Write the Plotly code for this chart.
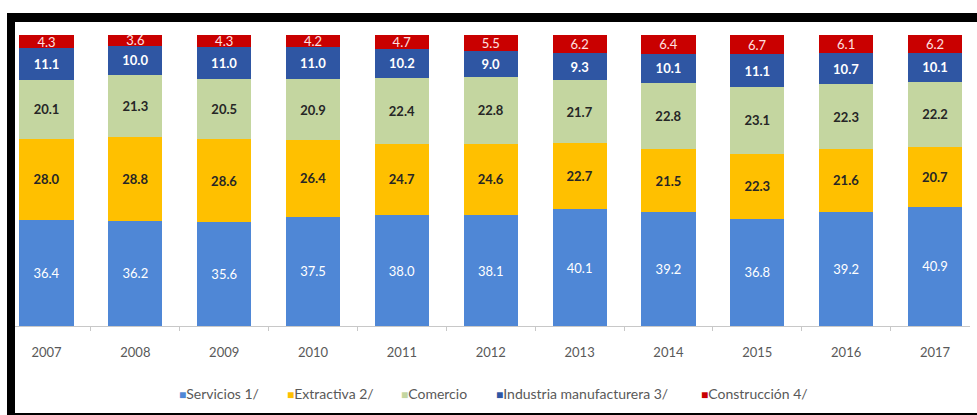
import plotly.graph_objects as go

# Participación por sector (%), 2007-2017
years = ["2007", "2008", "2009", "2010", "2011", "2012", "2013", "2014", "2015", "2016", "2017"]
servicios = [36.4, 36.2, 35.6, 37.5, 38.0, 38.1, 40.1, 39.2, 36.8, 39.2, 40.9]
extractiva = [28.0, 28.8, 28.6, 26.4, 24.7, 24.6, 22.7, 21.5, 22.3, 21.6, 20.7]
comercio = [20.1, 21.3, 20.5, 20.9, 22.4, 22.8, 21.7, 22.8, 23.1, 22.3, 22.2]
industria = [11.1, 10.0, 11.0, 11.0, 10.2, 9.0, 9.3, 10.1, 11.1, 10.7, 10.1]
construccion = [4.3, 3.6, 4.3, 4.2, 4.7, 5.5, 6.2, 6.4, 6.7, 6.1, 6.2]

series_names = ["Servicios 1/", "Extractiva 2/", "Comercio",
                "Industria manufacturera 3/", "Construcción 4/"]
series_values = [servicios, extractiva, comercio, industria, construccion]
series_colors = ["#4f87d6", "#ffc000", "#c4d6a0", "#2f56a3", "#c90000"]
label_colors = ["#ffffff", "#262626", "#262626", "#ffffff", "#ffe0e0"]
label_weights = ["normal", "bold", "bold", "bold", "normal"]

W, H = 977, 415
FONT = "Lato"

fig = go.Figure()
for name, vals, color, tcolor, weight in zip(series_names, series_values, series_colors,
                                             label_colors, label_weights):
    fig.add_trace(go.Bar(
        x=years,
        y=vals,
        name=name,
        showlegend=False,
        marker=dict(color=color, line=dict(width=0)),
        text=[f"{v:.1f}" for v in vals],
        textposition="inside",
        insidetextanchor="middle",
        constraintext="none",
        textangle=0,
        textfont=dict(family=FONT, size=13, color=tcolor, weight=weight),
    ))

# plot area in pixels
x_left, x_right = 15, 970
y_bottom, y_top = 326, 33.5
c0, pitch = 46.5, 88.85

# legend row below the axis: coloured square + series name
legend_x = [177, 285, 399, 494, 699]
legend_y = 1 - 393 / H
annotations = []
for name, color, lx in zip(series_names, series_colors, legend_x):
    annotations.append(dict(
        xref="paper", yref="paper",
        x=lx / W, y=legend_y,
        xanchor="left", yanchor="middle",
        showarrow=False,
        text=f"<span style='color:{color};font-size:12px'>■</span>{name}",
        font=dict(family=FONT, size=14, color="#595959"),
    ))

fig.update_layout(
    width=W,
    height=H,
    barmode="stack",
    bargap=0.39,
    margin=dict(l=0, r=0, t=0, b=0),
    paper_bgcolor="white",
    plot_bgcolor="white",
    font=dict(family=FONT, color="#595959"),
    showlegend=False,
    annotations=annotations,
    xaxis=dict(
        type="category",
        domain=[x_left / W, x_right / W],
        range=[(x_left - c0) / pitch, (x_right - c0) / pitch],
        showline=True,
        linecolor="#c8c8c8",
        linewidth=1,
        ticks="outside",
        tickson="boundaries",
        ticklen=4,
        tickcolor="#c8c8c8",
        ticklabelstandoff=14,
        tickfont=dict(family=FONT, size=13, color="#595959"),
        showgrid=False,
        zeroline=False,
    ),
    yaxis=dict(
        domain=[1 - y_bottom / H, 1 - y_top / H],
        range=[0, 100.5],
        visible=False,
        showgrid=False,
        zeroline=False,
    ),
    shapes=[
        # black frame: top band, left band, bottom line
        dict(type="rect", xref="paper", yref="paper", x0=7 / W, x1=1, y0=1 - 22 / H, y1=1 - 13 / H,
             fillcolor="black", line=dict(width=0), layer="above"),
        dict(type="rect", xref="paper", yref="paper", x0=7 / W, x1=15 / W, y0=0, y1=1 - 13 / H,
             fillcolor="black", line=dict(width=0), layer="above"),
        dict(type="rect", xref="paper", yref="paper", x0=7 / W, x1=1, y0=0, y1=2 / H,
             fillcolor="black", line=dict(width=0), layer="above"),
    ],
)

fig.write_html("out.html")
